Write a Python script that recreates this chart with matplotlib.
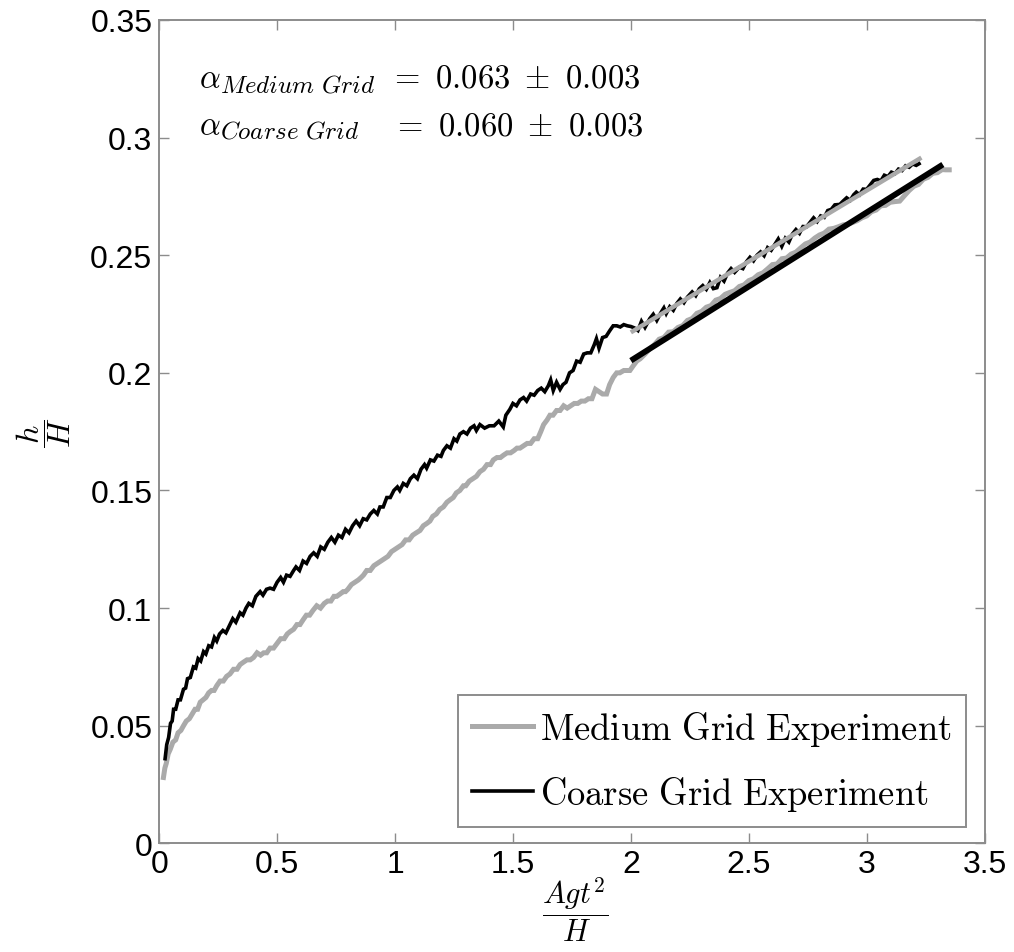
import matplotlib
matplotlib.use("Agg")
import matplotlib.pyplot as plt
import numpy as np

# ---- measured growth of the mixing layer ----
coarse_x = [0.025, 0.032, 0.040, 0.048, 0.055, 0.061, 0.070, 0.080, 0.090, 0.103,
            0.112, 0.120, 0.132, 0.145, 0.155, 0.165, 0.176, 0.188, 0.198, 0.210,
            0.222, 0.234, 0.244, 0.256, 0.270, 0.283, 0.300, 0.312, 0.325, 0.343,
            0.355, 0.368, 0.380, 0.395, 0.410, 0.428, 0.440, 0.455, 0.470, 0.485,
            0.500, 0.515, 0.527, 0.540, 0.555, 0.570, 0.580, 0.595, 0.610, 0.625,
            0.640, 0.655, 0.670, 0.685, 0.700, 0.715, 0.730, 0.745, 0.760, 0.775,
            0.790, 0.805, 0.820, 0.835, 0.850, 0.865, 0.880, 0.895, 0.910, 0.925,
            0.936, 0.950, 0.965, 0.980, 0.995, 1.010, 1.020, 1.035, 1.050, 1.065,
            1.080, 1.095, 1.110, 1.125, 1.134, 1.150, 1.165, 1.180, 1.195, 1.205,
            1.220, 1.235, 1.250, 1.262, 1.275, 1.290, 1.305, 1.320, 1.335, 1.345,
            1.360, 1.380, 1.400, 1.420, 1.440, 1.459, 1.470, 1.487, 1.500, 1.515,
            1.530, 1.545, 1.558, 1.575, 1.590, 1.605, 1.620, 1.635, 1.650, 1.660,
            1.671, 1.685, 1.700, 1.712, 1.725, 1.740, 1.755, 1.770, 1.785, 1.800,
            1.815, 1.830, 1.845, 1.854, 1.865, 1.880, 1.895, 1.911, 1.925, 1.940,
            1.955, 1.970, 1.985, 2.000, 2.015, 2.030, 2.045, 2.060, 2.080, 2.095,
            2.110, 2.125, 2.140, 2.150, 2.165, 2.180, 2.195, 2.210, 2.225, 2.240,
            2.260, 2.275, 2.290, 2.305, 2.320, 2.335, 2.350, 2.365, 2.380, 2.395,
            2.410, 2.425, 2.440, 2.460, 2.475, 2.490, 2.505, 2.520, 2.535, 2.550,
            2.565, 2.580, 2.595, 2.610, 2.625, 2.640, 2.655, 2.670, 2.685, 2.700,
            2.715, 2.730, 2.745, 2.760, 2.775, 2.790, 2.805, 2.820, 2.835, 2.850,
            2.865, 2.886, 2.900, 2.915, 2.930, 2.945, 2.956, 2.970, 2.985, 3.000,
            3.015, 3.030, 3.045, 3.060, 3.075, 3.090, 3.105, 3.120, 3.135, 3.150,
            3.165, 3.180, 3.195, 3.210, 3.222]
coarse_h = [0.036, 0.042, 0.045, 0.051, 0.052, 0.057, 0.057, 0.061, 0.061, 0.0655,
            0.066, 0.070, 0.0705, 0.075, 0.0745, 0.0785, 0.0775, 0.0815, 0.0805, 0.084,
            0.0835, 0.0875, 0.086, 0.089, 0.0905, 0.0895, 0.093, 0.0955, 0.094, 0.098,
            0.097, 0.100, 0.102, 0.101, 0.105, 0.107, 0.1055, 0.108, 0.1085, 0.108,
            0.111, 0.113, 0.111, 0.114, 0.1135, 0.116, 0.1175, 0.116, 0.120, 0.119,
            0.122, 0.1235, 0.122, 0.126, 0.125, 0.128, 0.130, 0.128, 0.131, 0.130,
            0.1335, 0.132, 0.135, 0.137, 0.135, 0.138, 0.1375, 0.140, 0.1415, 0.140,
            0.143, 0.143, 0.147, 0.147, 0.150, 0.1515, 0.150, 0.153, 0.152, 0.155,
            0.1565, 0.155, 0.159, 0.161, 0.1595, 0.163, 0.1625, 0.165, 0.1645, 0.167,
            0.169, 0.168, 0.172, 0.171, 0.174, 0.175, 0.174, 0.1765, 0.1775, 0.1755,
            0.178, 0.1765, 0.1775, 0.1775, 0.1795, 0.177, 0.182, 0.1845, 0.187, 0.186,
            0.1885, 0.1895, 0.188, 0.191, 0.1905, 0.1925, 0.1935, 0.192, 0.1945, 0.197,
            0.1925, 0.196, 0.193, 0.195, 0.196, 0.200, 0.201, 0.205, 0.2045, 0.208,
            0.2085, 0.2085, 0.212, 0.2145, 0.2105, 0.215, 0.2155, 0.218, 0.220, 0.220,
            0.2195, 0.2205, 0.220, 0.2197, 0.2191, 0.2180, 0.2219, 0.2193, 0.2230, 0.2249,
            0.2223, 0.2252, 0.2276, 0.2252, 0.2281, 0.2266, 0.2295, 0.2314, 0.2298, 0.2322,
            0.2344, 0.2328, 0.2357, 0.2371, 0.2355, 0.2384, 0.2358, 0.2362, 0.2406, 0.2390,
            0.2424, 0.2443, 0.2427, 0.2449, 0.2443, 0.2472, 0.2491, 0.2476, 0.2500, 0.2514,
            0.2498, 0.2532, 0.2521, 0.2545, 0.2569, 0.2538, 0.2572, 0.2556, 0.2590, 0.2609,
            0.2593, 0.2622, 0.2621, 0.2640, 0.2659, 0.2643, 0.2667, 0.2661, 0.2690, 0.2695,
            0.2714, 0.2716, 0.2730, 0.2744, 0.2733, 0.2757, 0.2768, 0.2757, 0.2781, 0.2780,
            0.2799, 0.2818, 0.2822, 0.2816, 0.2840, 0.2834, 0.2853, 0.2847, 0.2866, 0.2860,
            0.2880, 0.2874, 0.2888, 0.2882, 0.2889]

medium_x = [0.018, 0.024, 0.030, 0.038, 0.047, 0.058, 0.070, 0.080, 0.092, 0.103,
            0.115, 0.128, 0.140, 0.152, 0.163, 0.174, 0.186, 0.198, 0.210, 0.222,
            0.233, 0.244, 0.258, 0.272, 0.286, 0.300, 0.315, 0.330, 0.343, 0.357,
            0.372, 0.386, 0.400, 0.415, 0.430, 0.443, 0.456, 0.470, 0.485, 0.500,
            0.515, 0.530, 0.543, 0.555, 0.570, 0.584, 0.597, 0.610, 0.624, 0.638,
            0.652, 0.668, 0.684, 0.700, 0.714, 0.728, 0.741, 0.753, 0.767, 0.780,
            0.790, 0.800, 0.815, 0.830, 0.845, 0.856, 0.866, 0.880, 0.895, 0.910,
            0.925, 0.940, 0.955, 0.970, 0.985, 1.000, 1.015, 1.030, 1.045, 1.060,
            1.075, 1.090, 1.106, 1.120, 1.135, 1.148, 1.160, 1.175, 1.190, 1.205,
            1.220, 1.233, 1.247, 1.260, 1.275, 1.290, 1.300, 1.315, 1.330, 1.345,
            1.360, 1.375, 1.390, 1.405, 1.417, 1.432, 1.447, 1.460, 1.475, 1.490,
            1.505, 1.517, 1.530, 1.545, 1.560, 1.575, 1.590, 1.605, 1.618, 1.630,
            1.645, 1.657, 1.670, 1.685, 1.700, 1.715, 1.730, 1.745, 1.760, 1.775,
            1.790, 1.805, 1.820, 1.835, 1.850, 1.865, 1.880, 1.897, 1.910, 1.925,
            1.940, 1.953, 1.970, 1.985, 1.996, 2.010, 2.025, 2.040, 2.060, 2.080,
            2.100, 2.120, 2.140, 2.160, 2.180, 2.200, 2.220, 2.240, 2.260, 2.280,
            2.300, 2.320, 2.340, 2.360, 2.380, 2.400, 2.420, 2.440, 2.460, 2.480,
            2.500, 2.520, 2.540, 2.560, 2.580, 2.600, 2.620, 2.640, 2.660, 2.680,
            2.700, 2.720, 2.740, 2.760, 2.780, 2.800, 2.820, 2.840, 2.860, 2.880,
            2.900, 2.920, 2.940, 2.960, 2.980, 3.000, 3.020, 3.040, 3.060, 3.080,
            3.100, 3.120, 3.140, 3.160, 3.180, 3.200, 3.220, 3.240, 3.260, 3.280,
            3.300, 3.320, 3.335, 3.350]
medium_h = [0.028, 0.032, 0.034, 0.038, 0.040, 0.043, 0.044, 0.047, 0.048, 0.050,
            0.052, 0.053, 0.055, 0.057, 0.057, 0.060, 0.061, 0.062, 0.064, 0.065,
            0.065, 0.067, 0.069, 0.069, 0.071, 0.072, 0.074, 0.074, 0.076, 0.077,
            0.078, 0.078, 0.079, 0.081, 0.080, 0.081, 0.081, 0.083, 0.083, 0.085,
            0.087, 0.087, 0.089, 0.090, 0.091, 0.093, 0.093, 0.095, 0.097, 0.097,
            0.099, 0.101, 0.100, 0.102, 0.103, 0.103, 0.105, 0.105, 0.106, 0.107,
            0.107, 0.108, 0.110, 0.111, 0.112, 0.113, 0.114, 0.116, 0.116, 0.118,
            0.119, 0.120, 0.121, 0.122, 0.124, 0.125, 0.126, 0.127, 0.129, 0.129,
            0.131, 0.132, 0.133, 0.135, 0.136, 0.137, 0.139, 0.140, 0.142, 0.143,
            0.145, 0.146, 0.147, 0.149, 0.150, 0.152, 0.152, 0.154, 0.155, 0.156,
            0.158, 0.159, 0.161, 0.161, 0.163, 0.164, 0.164, 0.165, 0.166, 0.166,
            0.167, 0.168, 0.168, 0.169, 0.170, 0.170, 0.172, 0.172, 0.175, 0.178,
            0.180, 0.182, 0.182, 0.184, 0.184, 0.186, 0.185, 0.186, 0.187, 0.187,
            0.188, 0.188, 0.189, 0.189, 0.193, 0.192, 0.191, 0.191, 0.195, 0.198,
            0.200, 0.200, 0.201, 0.201, 0.201, 0.203, 0.205, 0.206, 0.208, 0.2102,
            0.2120, 0.2143, 0.2150, 0.2173, 0.2175, 0.2193, 0.2201, 0.2223, 0.2231, 0.2253,
            0.2261, 0.2279, 0.2286, 0.2309, 0.2316, 0.2334, 0.2342, 0.2349, 0.2367, 0.2374,
            0.2392, 0.2400, 0.2417, 0.2425, 0.2442, 0.2460, 0.2463, 0.2485, 0.2488, 0.2505,
            0.2513, 0.2531, 0.2548, 0.2556, 0.2573, 0.2586, 0.2594, 0.2611, 0.2614, 0.2621,
            0.2629, 0.2632, 0.2639, 0.2647, 0.2659, 0.2667, 0.2685, 0.2692, 0.2710, 0.2712,
            0.2725, 0.2728, 0.2730, 0.2753, 0.2775, 0.2793, 0.2801, 0.2823, 0.2831, 0.2848,
            0.2851, 0.2864, 0.2863, 0.2863]

# ---- linear fits over the self-similar range ----
fit_x_start = [2.0, 2.0]          # medium, coarse
fit_x_end = [3.232, 3.323]
fit_h_start = [0.2172, 0.2052]
fit_slope = [0.0603, 0.0630]

alpha_medium = "0.063"
alpha_coarse = "0.060"
alpha_err = "0.003"

x_ticks = [0, 0.5, 1, 1.5, 2, 2.5, 3, 3.5]
x_tick_labels = ["0", "0.5", "1", "1.5", "2", "2.5", "3", "3.5"]
y_ticks = [0, 0.05, 0.1, 0.15, 0.2, 0.25, 0.3, 0.35]
y_tick_labels = ["0", "0.05", "0.1", "0.15", "0.2", "0.25", "0.3", "0.35"]

GRAY = "#aaaaaa"
AXCOL = "#8c8c8c"
TICK_FONT = ["Liberation Sans", "DejaVu Sans"]

plt.rcParams["mathtext.fontset"] = "cm"

fig = plt.figure(figsize=(10.14, 9.53), dpi=100)
ax = fig.add_axes([0.157, 0.114, 0.814, 0.864])

ax.plot(medium_x, medium_h, color=GRAY, lw=3.6, solid_joinstyle="miter",
        label=r"$\mathrm{Medium\ Grid\ Experiment}$", zorder=2)
ax.plot(coarse_x, coarse_h, color="black", lw=2.6, solid_joinstyle="miter",
        label=r"$\mathrm{Coarse\ Grid\ Experiment}$", zorder=3)

fx = np.array([fit_x_start[0], fit_x_end[0]])
ax.plot(fx, fit_h_start[0] + fit_slope[0] * (fx - fit_x_start[0]),
        color=GRAY, lw=3.2, solid_capstyle="butt", zorder=4)
fx = np.array([fit_x_start[1], fit_x_end[1]])
ax.plot(fx, fit_h_start[1] + fit_slope[1] * (fx - fit_x_start[1]),
        color="black", lw=4.2, solid_capstyle="butt", zorder=5)

ax.set_xlim(0, 3.5)
ax.set_ylim(0, 0.35)
ax.set_xticks(x_ticks)
ax.set_xticklabels(x_tick_labels)
ax.set_yticks(y_ticks)
ax.set_yticklabels(y_tick_labels)
for lab in ax.get_xticklabels() + ax.get_yticklabels():
    lab.set_family(TICK_FONT)
    lab.set_fontsize(23)
    lab.set_color("black")

ax.tick_params(direction="in", length=7, width=1.0, color=AXCOL,
               top=True, right=True)
ax.tick_params(axis="x", pad=4)
ax.tick_params(axis="y", pad=5)
for sp in ax.spines.values():
    sp.set_color(AXCOL)
    sp.set_linewidth(1.4)

ax.set_xlabel(r"$\dfrac{Agt^2}{H}$", fontsize=22)
ax.xaxis.set_label_coords(0.504, -0.038)
ax.xaxis.label.set_va("top")
ax.set_ylabel(r"$\dfrac{h}{H}$", fontsize=23)
ax.yaxis.set_label_coords(-0.104, 0.5)

# growth-rate annotation: alpha with its subscript, then value and error
rows = [("Medium\\ Grid", alpha_medium, 0.9186, 0.9137, 0.278),
        ("Coarse\\ Grid", alpha_coarse, 0.8615, 0.8578, 0.282)]
for name, val, base_y, sub_y, eq_x in rows:
    ax.text(0.0484, base_y, r"$\alpha$", transform=ax.transAxes,
            fontsize=23.5, ha="left", va="baseline")
    ax.text(0.0738, sub_y, r"$%s$" % name, transform=ax.transAxes,
            fontsize=18, ha="left", va="baseline")
    ax.text(eq_x, base_y, r"$=\ %s\ \pm\ %s$" % (val, alpha_err),
            transform=ax.transAxes, fontsize=23.5, ha="left", va="baseline")

leg = ax.legend(loc="lower right", bbox_to_anchor=(0.977, 0.020),
                borderaxespad=0, fontsize=26.3, frameon=True, fancybox=False,
                handlelength=1.65, handletextpad=0.21, borderpad=0.38,
                labelspacing=0.72)
leg.get_frame().set_edgecolor(AXCOL)
leg.get_frame().set_linewidth(1.4)
leg.get_frame().set_alpha(1)

fig.savefig("out.png", dpi=100)
